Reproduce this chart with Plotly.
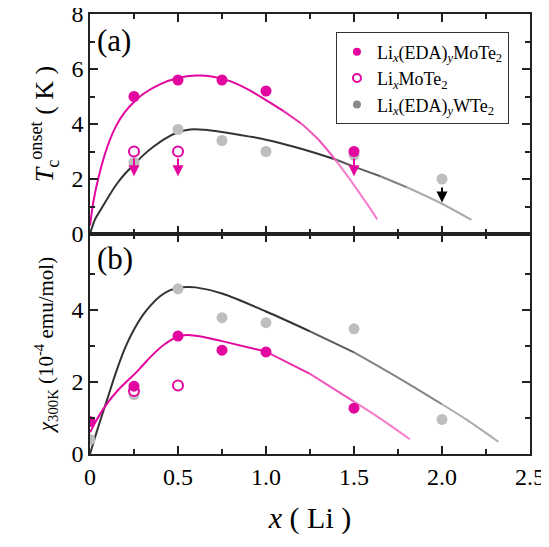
import plotly.graph_objects as go
from plotly.subplots import make_subplots

# ---------------- data ----------------
# Panel (a): Tc onset (K)
x_mote_a = [0.25, 0.5, 0.75, 1.0, 1.5]
tc_mote = [5.0, 5.6, 5.6, 5.2, 3.0]
x_mote_open_a = [0.25, 0.5]
tc_mote_open = [3.0, 3.0]
x_wte_a = [0.25, 0.5, 0.75, 1.0, 1.5, 2.0]
tc_wte = [2.6, 3.8, 3.4, 3.0, 2.87, 2.0]

# upper-limit arrows
arrow_x_mote = [0.25, 0.5, 1.5]
arrow_tail_mote = [2.8, 2.8, 2.8]
arrow_head_mote = [2.1, 2.1, 2.1]
arrow_x_wte = [2.0]
arrow_tail_wte = [1.75]
arrow_head_wte = [1.15]

# guide curves (a)
curve_mote_a_x = [0, 0.02, 0.05, 0.1, 0.15, 0.2, 0.25, 0.3, 0.4, 0.5, 0.6, 0.7, 0.8, 0.9,
                  1.0, 1.1, 1.2, 1.3, 1.4, 1.5, 1.6, 1.632]
curve_mote_a_y = [0.3, 1.2, 2.1, 3.2, 3.95, 4.45, 4.8, 5.08, 5.45, 5.67, 5.76, 5.72, 5.55, 5.25,
                  4.87, 4.47, 4.02, 3.42, 2.65, 1.78, 0.85, 0.53]
curve_wte_a_x = [0, 0.03, 0.06, 0.1, 0.15, 0.2, 0.25, 0.3, 0.36, 0.43, 0.5, 0.57, 0.65, 0.75,
                 0.9, 1.0, 1.2, 1.4, 1.5, 1.65, 1.8, 2.0, 2.167]
curve_wte_a_y = [0, 0.55, 0.87, 1.3, 1.8, 2.2, 2.52, 2.85, 3.17, 3.48, 3.7, 3.8, 3.79, 3.71,
                 3.55, 3.43, 3.1, 2.7, 2.45, 2.1, 1.7, 1.1, 0.51]

# Panel (b): chi_300K (1e-4 emu/mol)
x_mote_b = [0, 0.25, 0.5, 0.75, 1.0, 1.5]
chi_mote = [0.9, 1.88, 3.27, 2.88, 2.83, 1.27]
x_mote_open_b = [0.25, 0.5]
chi_mote_open = [1.75, 1.9]
x_wte_b = [0, 0.25, 0.5, 0.75, 1.0, 1.5, 2.0]
chi_wte = [0.4, 1.65, 4.58, 3.78, 3.64, 3.47, 0.96]

curve_wte_b_x = [0, 0.05, 0.1, 0.15, 0.2, 0.25, 0.3, 0.35, 0.4, 0.45, 0.5, 0.55, 0.6, 0.75,
                 1.0, 1.25, 1.5, 1.75, 2.0, 2.15, 2.32]
curve_wte_b_y = [0.0, 0.8, 1.55, 2.3, 2.95, 3.45, 3.85, 4.15, 4.38, 4.53, 4.6, 4.63, 4.62, 4.45,
                 3.95, 3.4, 2.82, 2.12, 1.38, 0.92, 0.34]
curve_mote_b_x = [0, 0.05, 0.1, 0.15, 0.2, 0.25, 0.3, 0.35, 0.42, 0.5, 0.55, 0.65, 0.75, 1.0,
                  1.25, 1.5, 1.65, 1.817]
curve_mote_b_y = [0.6, 1.05, 1.42, 1.72, 1.97, 2.2, 2.46, 2.72, 3.03, 3.25, 3.3, 3.24, 3.13,
                  2.84, 2.22, 1.45, 0.98, 0.41]

x_ticks = [0, 0.5, 1.0, 1.5, 2.0, 2.5]
x_tick_text = ["0", "0.5", "1.0", "1.5", "2.0", "2.5"]

# ---------------- styling ----------------
MAG = "#E2069F"
GRAY_PT = "#BEBEBE"
FONT = "Liberation Serif"

fig = make_subplots(rows=2, cols=1, shared_xaxes=True, vertical_spacing=0)


def hex2rgb(h):
    h = h.lstrip("#")
    return [int(h[i:i + 2], 16) for i in (0, 2, 4)]


def mix(c1, c2, t):
    a, b = hex2rgb(c1), hex2rgb(c2)
    t = max(0.0, min(1.0, t))
    return "rgb(%d,%d,%d)" % tuple(round(a[i] + (b[i] - a[i]) * t) for i in range(3))


def add_curve(xs, ys, row, c_dark, c_light, x0, x1):
    # split the curve into colour chunks (dark -> light), each drawn as a smooth spline
    breaks = [x0, 0.5 * (x0 + x1), x1, 99]
    start = 0
    for k, xb in enumerate(breaks):
        idx = [i for i, x in enumerate(xs) if x <= xb]
        end = idx[-1] if idx else 0
        if end <= start:
            continue
        t = k / (len(breaks) - 1)
        fig.add_trace(go.Scatter(x=xs[start:end + 1], y=ys[start:end + 1], mode="lines",
                                 line=dict(color=mix(c_dark, c_light, t), width=2,
                                           shape="spline", smoothing=1.0),
                                 showlegend=False, hoverinfo="skip"), row=row, col=1)
        start = end


add_curve(curve_wte_a_x, curve_wte_a_y, 1, "#333333", "#ABABAB", 1.4, 1.9)
add_curve(curve_mote_a_x, curve_mote_a_y, 1, MAG, "#F77CCB", 1.1, 1.45)
add_curve(curve_wte_b_x, curve_wte_b_y, 2, "#333333", "#ABABAB", 1.25, 2.0)
add_curve(curve_mote_b_x, curve_mote_b_y, 2, MAG, "#F77CCB", 1.0, 1.5)

# points (a)
fig.add_trace(go.Scatter(x=x_wte_a, y=tc_wte, mode="markers", showlegend=False,
                         marker=dict(color=GRAY_PT, size=11)), row=1, col=1)
fig.add_trace(go.Scatter(x=x_mote_a, y=tc_mote, mode="markers", showlegend=False,
                         marker=dict(color=MAG, size=11)), row=1, col=1)
fig.add_trace(go.Scatter(x=x_mote_open_a, y=tc_mote_open, mode="markers", showlegend=False,
                         marker=dict(color="white", size=10, line=dict(color=MAG, width=2))),
              row=1, col=1)
# points (b)
fig.add_trace(go.Scatter(x=x_wte_b, y=chi_wte, mode="markers", showlegend=False,
                         marker=dict(color=GRAY_PT, size=11)), row=2, col=1)
fig.add_trace(go.Scatter(x=x_mote_open_b, y=chi_mote_open, mode="markers", showlegend=False,
                         marker=dict(color="white", size=10, line=dict(color=MAG, width=2))),
              row=2, col=1)
fig.add_trace(go.Scatter(x=x_mote_b, y=chi_mote, mode="markers", showlegend=False,
                         marker=dict(color=MAG, size=11)), row=2, col=1)

# legend-only traces
fig.add_trace(go.Scatter(x=[None], y=[None], mode="markers",
                         name="Li<sub><i>x</i></sub>(EDA)<sub><i>y</i></sub>MoTe<sub>2</sub>",
                         marker=dict(color=MAG, size=8)), row=1, col=1)
fig.add_trace(go.Scatter(x=[None], y=[None], mode="markers",
                         name="Li<sub><i>x</i></sub>MoTe<sub>2</sub>",
                         marker=dict(color="white", size=8, line=dict(color=MAG, width=2))),
              row=1, col=1)
fig.add_trace(go.Scatter(x=[None], y=[None], mode="markers",
                         name="Li<sub><i>x</i></sub>(EDA)<sub><i>y</i></sub>WTe<sub>2</sub>",
                         marker=dict(color="#8A8A8A", size=8)), row=1, col=1)

# arrows
annotations = []
for xa, ta, ha in zip(arrow_x_mote, arrow_tail_mote, arrow_head_mote):
    annotations.append(dict(x=xa, y=ha, ax=xa, ay=ta, xref="x", yref="y", axref="x", ayref="y",
                            text="", showarrow=True, arrowhead=2, arrowsize=1.1, arrowwidth=2,
                            arrowcolor=MAG))
for xa, ta, ha in zip(arrow_x_wte, arrow_tail_wte, arrow_head_wte):
    annotations.append(dict(x=xa, y=ha, ax=xa, ay=ta, xref="x", yref="y", axref="x", ayref="y",
                            text="", showarrow=True, arrowhead=2, arrowsize=1.1, arrowwidth=2,
                            arrowcolor="black"))
annotations.append(dict(x=0.012, y=0.985, xref="paper", yref="paper", text="(a)",
                        showarrow=False, xanchor="left", yanchor="top",
                        font=dict(family=FONT, size=31, color="black")))
annotations.append(dict(x=0.012, y=0.488, xref="paper", yref="paper", text="(b)",
                        showarrow=False, xanchor="left", yanchor="top",
                        font=dict(family=FONT, size=31, color="black")))

axis_common = dict(showline=True, linecolor="#222", linewidth=1.5, mirror="ticks",
                   ticks="inside", ticklen=8, tickwidth=1.5, tickcolor="#222",
                   showgrid=False, zeroline=False, automargin=False,
                   ticklabeloverflow="allow",
                   tickfont=dict(family=FONT, size=24, color="black"))

fig.update_xaxes(range=[0, 2.5], tickvals=x_ticks, ticktext=x_tick_text,
                 minor=dict(ticks="inside", ticklen=5, tickwidth=1.5, tickcolor="#222", dtick=0.25,
                            tick0=0),
                 **axis_common)
fig.update_xaxes(showticklabels=False, row=1, col=1)
fig.update_xaxes(title=dict(text="<i>x</i> ( Li )", font=dict(family=FONT, size=30, color="black"),
                            standoff=18), row=2, col=1)

fig.update_yaxes(range=[0, 8], dtick=2, tick0=0,
                 minor=dict(ticks="inside", ticklen=5, tickwidth=1.5, tickcolor="#222", dtick=1),
                 title=dict(text="<i>T</i><sub>c</sub><sup>onset</sup> ( K )",
                            font=dict(family=FONT, size=26, color="black"), standoff=10),
                 row=1, col=1, **axis_common)
fig.update_yaxes(range=[0, 6.1], tickvals=[0, 2, 4],
                 minor=dict(ticks="inside", ticklen=5, tickwidth=1.5, tickcolor="#222",
                            tickvals=[1, 3, 5]),
                 title=dict(text="<i>χ</i><sub>300K</sub> (10<sup>-4</sup> emu/mol)",
                            font=dict(family=FONT, size=21, color="black"), standoff=12),
                 row=2, col=1, **axis_common)

# the page places the figure 8 px from the top-left corner; size/margins compensate
fig.update_layout(
    width=541, height=539,
    margin=dict(l=81.5, r=18.5, t=5.5, b=93, autoexpand=False),
    plot_bgcolor="white", paper_bgcolor="white",
    annotations=annotations,
    legend=dict(x=0.559, y=0.958, xanchor="left", yanchor="top",
                bordercolor="#333", borderwidth=1, bgcolor="white",
                font=dict(family=FONT, size=18, color="black"), tracegroupgap=0),
    font=dict(family=FONT),
)

fig.write_html("out.html")
